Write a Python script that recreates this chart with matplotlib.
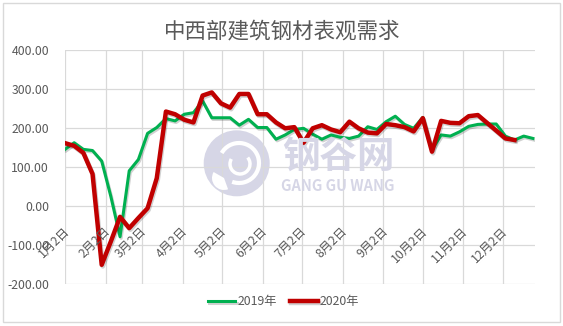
import matplotlib
matplotlib.use("Agg")
import matplotlib.pyplot as plt
import matplotlib.patches as mpatches
import matplotlib.transforms as mtransforms
import matplotlib.patheffects as pe

plt.rcParams['font.family'] = ['Noto Sans CJK SC', 'DejaVu Sans']

# 数据：每周一个点，x 为距 1月2日 的天数
weeks = list(range(52))
days = [7 * w for w in weeks]

demand_2019 = [146, 163, 146, 143, 116, 25, -78, 91, 120, 187,
               202, 225, 219, 236, 240, 270, 227, 227, 227, 208,
               223, 202, 202, 172, 183, 197, 200, 185, 172, 183,
               177, 174, 180, 204, 197, 217, 231, 210, 200, 228,
               145, 183, 180, 191, 205, 210, 211, 211, 180, 170,
               180, 174]

demand_2020 = [162, 155, 137, 83, -150, -90, -27, -56, -30, -5,
               72, 243, 236, 222, 215, 284, 292, 264, 253, 288,
               288, 236, 236, 215, 200, 203, 163, 200, 208, 197,
               190, 217, 200, 189, 187, 211, 208, 203, 192, 226,
               140, 219, 214, 213, 231, 234, 214, 194, 174, 170]

month_days = [0, 31, 59, 90, 120, 151, 181, 212, 243, 273, 304, 334]
month_labels = ["1月2日", "2月2日", "3月2日", "4月2日", "5月2日", "6月2日",
                "7月2日", "8月2日", "9月2日", "10月2日", "11月2日", "12月2日"]
y_ticks = [-200, -100, 0, 100, 200, 300, 400]

W, H = 563, 326
fig = plt.figure(figsize=(W / 100, H / 100), dpi=100)
fig.patch.set_facecolor("white")
pix = mtransforms.IdentityTransform()

# 外框
fig.patches.append(mpatches.Rectangle((3.3, H - 321.7), 560 - 3.3, 321.7 - 3,
                                      transform=pix, fill=False,
                                      edgecolor="#d9d9d9", linewidth=1))

ax = fig.add_axes([65 / W, (H - 284.3) / H, (535 - 65) / W, (284.3 - 50.3) / H])
ax.set_xlim(0, 358.6)
ax.set_ylim(-200, 400)
for s in ax.spines.values():
    s.set_visible(False)

ax.set_xticks(month_days)
ax.set_xticklabels([])
ax.set_yticks(y_ticks)
ax.set_yticklabels([f"{v:.2f}" for v in y_ticks])
ax.tick_params(length=0, colors="#595959", labelsize=8.8, pad=11.5)
ax.grid(True, color="#d9d9d9", linewidth=0.9, zorder=1)
ax.set_axisbelow(True)

# 水印
wm = "#d6d6e6"
ax.add_patch(mpatches.Circle((236.7, H - 163.3), 33, transform=pix,
                             facecolor=wm, edgecolor="none", zorder=0.5))
ax.add_patch(mpatches.Arc((239, H - 163), 40, 40, theta1=-110, theta2=150,
                          transform=pix, color="white", linewidth=3, zorder=0.6))
ax.add_patch(mpatches.Arc((240, H - 164), 20, 20, theta1=150, theta2=40,
                          transform=pix, color="white", linewidth=2.5, zorder=0.6))
ax.add_patch(mpatches.Wedge((224, H - 178), 12, 150, 290, transform=pix,
                            facecolor="white", edgecolor="none", zorder=0.6))
fig.text(338.4 / W, 1 - 157 / H, "钢谷网", fontsize=27, color=wm,
         fontweight="bold", ha="center", va="center", zorder=0.5)
fig.text(338 / W, 1 - 186 / H, "GANG GU WANG", fontsize=10.5, color=wm,
         fontweight="bold", ha="center", va="center", zorder=0.5)

shadow = [pe.SimpleLineShadow(offset=(0.8, -1.2), alpha=0.18), pe.Normal()]
ax.plot(days[:len(demand_2019)], demand_2019, color="#00b050", linewidth=2.2,
        label="2019年", zorder=3, solid_joinstyle="round", path_effects=shadow)
ax.plot(days[:len(demand_2020)], demand_2020, color="#c00000", linewidth=3.2,
        label="2020年", zorder=4, solid_joinstyle="round", path_effects=shadow)

# 横轴标签放在 0 线下方
lab_tf = mtransforms.offset_copy(ax.transData, fig=fig, x=2.3, y=-22.4, units="dots")
for d, lab in zip(month_days, month_labels):
    ax.text(d, 0, lab, transform=lab_tf, rotation=45, rotation_mode="anchor",
            ha="right", va="center", fontsize=8.8, color="#595959", zorder=5)

fig.text(282 / W, 1 - 31.7 / H, "中西部建筑钢材表观需求", fontsize=15.5,
         color="#595959", ha="center", va="center")

leg = fig.legend(loc="center", bbox_to_anchor=(283.5 / W, 1 - 302 / H), ncol=2,
                 frameon=False, fontsize=8.8, handlelength=2.25,
                 handletextpad=0.15, columnspacing=1.1)
for t in leg.get_texts():
    t.set_color("#595959")

fig.savefig("out.png", dpi=100)
